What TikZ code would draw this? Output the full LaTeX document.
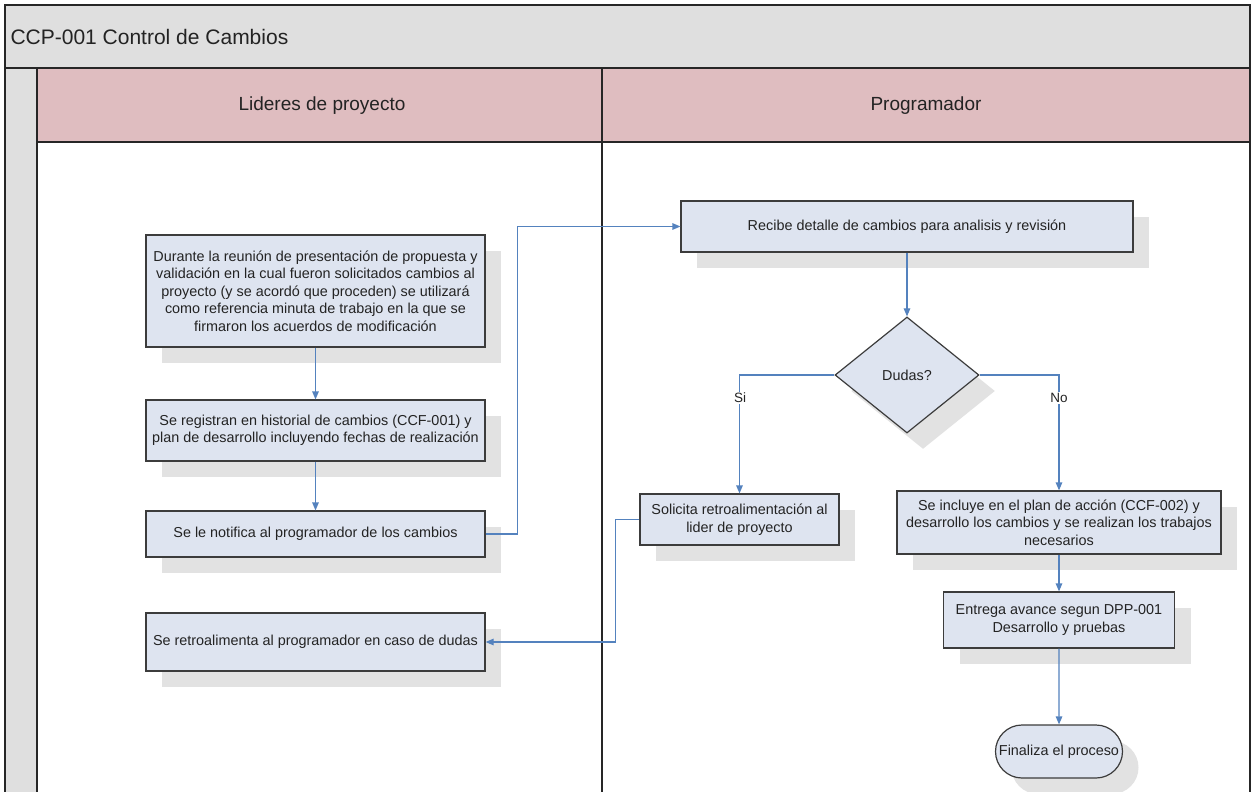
\documentclass[tikz,border=0pt]{standalone}
\usepackage{fontspec}
\setmainfont{Liberation Sans}
\usetikzlibrary{arrows.meta,shapes.geometric,shapes.misc,calc,shadows}
\definecolor{titlegray}{RGB}{223,223,223}
\definecolor{headpink}{RGB}{223,189,192}
\definecolor{boxfill}{RGB}{222,228,240}
\definecolor{boxline}{RGB}{60,60,60}
\definecolor{shadowgray}{RGB}{226,226,226}
\definecolor{arrowc}{RGB}{84,130,190}
\definecolor{txt}{RGB}{35,35,35}
\begin{document}
\begin{tikzpicture}[x=1pt,y=-1pt,
  lanefr/.style={draw=black!85,line width=1.3pt},
  procbox/.style={draw=boxline,line width=1.2pt,fill=boxfill,align=center,text=txt,
    inner sep=0pt,font=\fontsize{14.4}{17.5}\selectfont,
    drop shadow={shadow xshift=16pt,shadow yshift=-16pt,fill=shadowgray,opacity=1,draw=none}},
  decis/.style={procbox,diamond,aspect=1.24},
  termin/.style={procbox,rounded rectangle},
  flow/.style={draw=arrowc,line width=1.2pt,-{Triangle[length=8pt,width=6.5pt]}},
  brlabel/.style={fill=white,inner sep=1.5pt,text=txt,font=\fontsize{13.5}{15}\selectfont},
  lanehead/.style={text=txt,font=\fontsize{19}{22}\selectfont}
]
\useasboundingbox (0,0) rectangle (1253,792);
% pool
\fill[white] (0,0) rectangle (1253,792);
\fill[titlegray] (5,5) rectangle (1250,68);
\fill[titlegray] (5,68) rectangle (37,792);
\fill[headpink] (37,68) rectangle (1250,142);
\draw[lanefr] (5,792) -- (5,5) -- (1250,5) -- (1250,792);
\draw[lanefr] (5,68) -- (1250,68);
\draw[lanefr] (37,68) -- (37,792);
\draw[lanefr] (602,68) -- (602,792);
\draw[lanefr] (37,142) -- (1250,142);
\node[anchor=west,text=txt,font=\fontsize{21}{24}\selectfont] (title) at (7,37) {CCP-001 Control de Cambios};
\node[lanehead] (lane1) at (322,106) {Lideres de proyecto};
\node[lanehead] (lane2) at (926,106) {Programador};

% left lane
\node[procbox,minimum width=339pt,minimum height=112pt] (dur) at (315.5,291)
  {Durante la reunión de presentación de propuesta y\\validación en la cual fueron solicitados cambios al\\proyecto (y se acordó que proceden) se utilizará\\como referencia minuta de trabajo en la que se\\firmaron los acuerdos de modificación};
\node[procbox,minimum width=339pt,minimum height=61pt] (reg) at (315.5,430.5)
  {Se registran en historial de cambios (CCF-001) y\\plan de desarrollo incluyendo fechas de realización};
\node[procbox,minimum width=339pt,minimum height=46pt] (notif) at (315.5,534)
  {Se le notifica al programador de los cambios};
\node[procbox,minimum width=339pt,minimum height=58pt] (retro) at (315.5,642)
  {Se retroalimenta al programador en caso de dudas};

% right lane
\node[procbox,minimum width=452pt,minimum height=51pt] (recibe) at (907,226.5)
  {Recibe detalle de cambios para analisis y revisión};
\node[decis,minimum width=144pt,minimum height=116pt] (dudas) at (907,375) {Dudas?};
\node[procbox,minimum width=199pt,minimum height=51pt] (sol) at (739.5,519.5)
  {Solicita retroalimentación al\\lider de proyecto};
\node[procbox,minimum width=324pt,minimum height=63pt] (inc) at (1059,522.5)
  {Se incluye en el plan de acción (CCF-002) y\\desarrollo los cambios y se realizan los trabajos\\necesarios};
\node[procbox,minimum width=231pt,minimum height=56pt] (ent) at (1059,620)
  {Entrega avance segun DPP-001\\Desarrollo y pruebas};
\node[termin,minimum width=129pt,minimum height=53pt,inner xsep=1pt] (fin) at (1059,751.5)
  {Finaliza el proceso};

% connectors
\draw[flow] (dur) -- (reg);
\draw[flow] (reg) -- (notif);
\draw[flow] (notif.east) -- ++(32,0) |- (recibe.west);
\draw[flow] (recibe) -- (dudas);
\draw[flow] (dudas.west) -| (sol.north);
\draw[flow] (dudas.east) -| (inc.north);
\draw[flow] (sol.west) -- ++(-24,0) |- (retro.east);
\draw[flow] (inc) -- (ent);
\draw[flow] (ent) -- (fin);
\node[brlabel] (si) at (740,398) {Si};
\node[brlabel] (no) at (1059,398) {No};
\end{tikzpicture}
\end{document}
